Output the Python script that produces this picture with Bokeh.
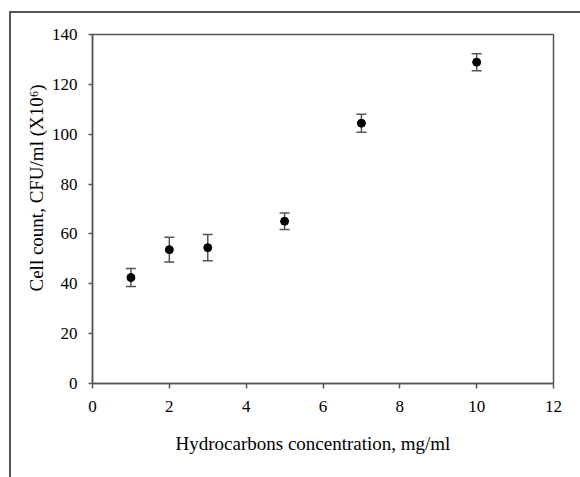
from bokeh.plotting import figure
from bokeh.models import (ColumnDataSource, Range1d, SingleIntervalTicker, Whisker,
                          TeeHead, Title)
from bokeh.embed import file_html
from bokeh.resources import INLINE

# Cell counts (x10^6 CFU/ml) against hydrocarbon concentration (mg/ml)
concentration = [1, 2, 3, 5, 7, 10]
cell_count = [42.5, 53.7, 54.5, 65.1, 104.4, 128.9]
count_error = [3.6, 5.0, 5.3, 3.3, 3.6, 3.4]

x_ticks_step = 2
y_ticks_step = 20

x_title = "Hydrocarbons concentration, mg/ml"
y_title = "Cell count, CFU/ml (X10\u2076)"

SERIF = "Liberation Serif"
GREY = "#555555"

source = ColumnDataSource(data=dict(
    x=concentration,
    y=cell_count,
    upper=[v + e for v, e in zip(cell_count, count_error)],
    lower=[v - e for v, e in zip(cell_count, count_error)],
))

p = figure(width=580, height=477, output_backend="svg", toolbar_location=None,
           x_range=Range1d(0, 12), y_range=Range1d(0, 140),
           min_border_left=92, min_border_right=27,
           min_border_top=34, min_border_bottom=94)
p.frame_width = 461
p.frame_height = 349

p.grid.visible = False
p.outline_line_color = GREY
p.outline_line_width = 1.5
p.background_fill_color = "white"
# transparent surround so the panel border drawn on the host element shows
p.border_fill_color = None
p.styles = {
    "background-color": "white",
    "background-image": "linear-gradient(#555555, #555555), linear-gradient(#555555, #555555)",
    "background-size": "2px 100%, 100% 2px",
    "background-position": "9px 11px, 9px 11px",
    "background-repeat": "no-repeat",
}

for ax in (p.xaxis[0], p.yaxis[0]):
    ax.axis_line_color = GREY
    ax.axis_line_width = 1.5
    ax.major_tick_line_color = GREY
    ax.major_tick_line_width = 1.5
    ax.major_tick_in = 0
    ax.minor_tick_line_color = None
    ax.major_label_text_font = SERIF
    ax.major_label_text_font_size = "17px"
    ax.major_label_text_color = "black"

p.xaxis.ticker = SingleIntervalTicker(interval=x_ticks_step)
p.yaxis.ticker = SingleIntervalTicker(interval=y_ticks_step)
p.xaxis.major_tick_out = 5
p.yaxis.major_tick_out = 4
p.xaxis.major_label_standoff = 12
p.yaxis.major_label_standoff = 11

# Axis titles as side titles, left-aligned with an offset along the axis
p.add_layout(Title(text=x_title, align="left", offset=83, standoff=32,
                   text_font=SERIF, text_font_size="19px",
                   text_font_style="normal", text_color="black"), "below")
p.add_layout(Title(text=y_title, align="left", offset=92, standoff=4,
                   text_font=SERIF, text_font_size="19px",
                   text_font_style="normal", text_color="black"), "left")

# Error bars
p.add_layout(Whisker(source=source, base="x", upper="upper", lower="lower",
                     line_color=GREY, line_width=1.5,
                     upper_head=TeeHead(size=10, line_color=GREY, line_width=1.5),
                     lower_head=TeeHead(size=10, line_color=GREY, line_width=1.5)))

p.scatter("x", "y", source=source, size=8, marker="circle",
          fill_color="black", line_color="black")

open("out.html", "w").write(file_html(p, INLINE))
